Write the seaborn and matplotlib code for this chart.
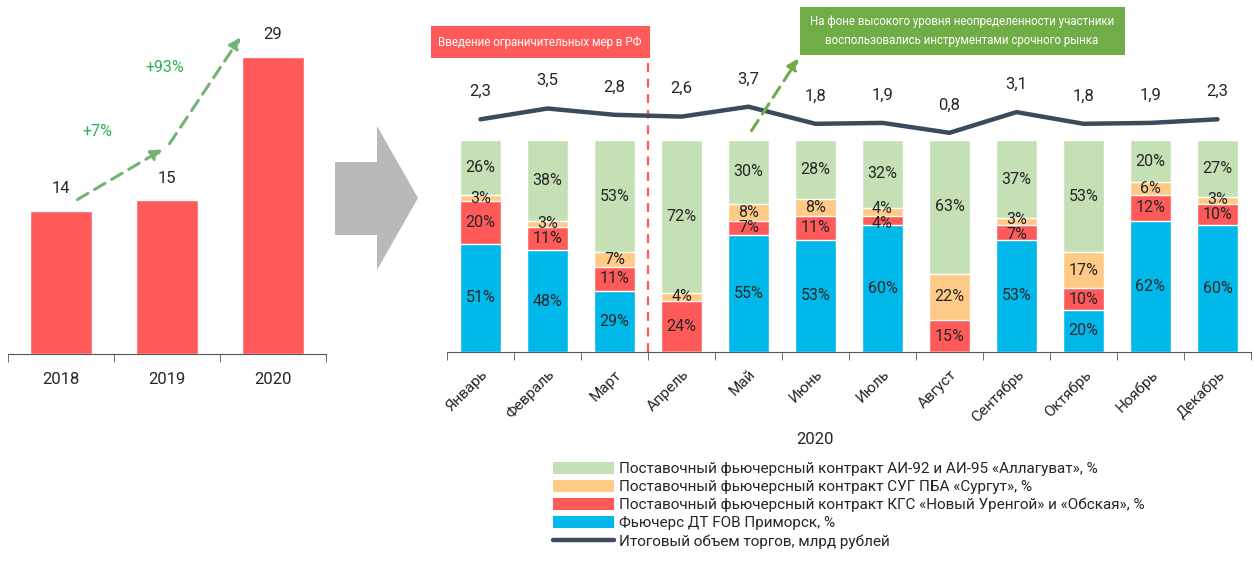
import numpy as np
import pandas as pd
import matplotlib
matplotlib.use('Agg')
import matplotlib.pyplot as plt
import seaborn as sns
from matplotlib.patches import Polygon, Rectangle, FancyArrowPatch, Patch
from matplotlib.lines import Line2D

# yearly totals, bn rub
years = ['2018', '2019', '2020']
year_totals = [14, 15, 29]
growth_labels = ['+7%', '+93%']

# monthly structure, %
months = ['Январь', 'Февраль', 'Март', 'Апрель', 'Май', 'Июнь', 'Июль',
          'Август', 'Сентябрь', 'Октябрь', 'Ноябрь', 'Декабрь']
dt_fob = [51, 48, 29, 0, 55, 53, 60, 0, 53, 20, 62, 60]
kgs = [20, 11, 11, 24, 7, 11, 4, 15, 7, 10, 12, 10]
sug = [3, 3, 7, 4, 8, 8, 4, 22, 3, 17, 6, 3]
ai92 = [26, 38, 53, 72, 30, 28, 32, 63, 37, 53, 20, 27]
monthly_volume = [2.3, 3.5, 2.8, 2.6, 3.7, 1.8, 1.9, 0.8, 3.1, 1.8, 1.9, 2.3]

series_names = ['Поставочный фьючерсный контракт АИ-92 и АИ-95 «Аллагуват», %',
                'Поставочный фьючерсный контракт СУГ ПБА «Сургут», %',
                'Поставочный фьючерсный контракт КГС «Новый Уренгой» и «Обская», %',
                'Фьючерс ДТ FOB Приморск, %']
line_name = 'Итоговый объем торгов, млрд рублей'

GREEN = '#c5e0b4'
ORANGE = '#ffca85'
RED = '#ff5a5a'
BLUE = '#00b9ea'
LINE = '#3c4a5e'
TXT = '#262626'

sns.set_style('white')
plt.rcParams['font.family'] = ['Roboto', 'DejaVu Sans']

W, H = 1253, 564
fig = plt.figure(figsize=(W / 100, H / 100), dpi=100)


def fx(px):
    return px / W


def fy(py):
    return 1 - py / H


# ---- left chart: yearly totals
axl = fig.add_axes([fx(8), fy(354), fx(318), 328 / H])
df_y = pd.DataFrame({'year': years, 'total': year_totals})
sns.barplot(data=df_y, x='year', y='total', color=RED, saturation=1, width=0.58, ax=axl)
axl.set_ylim(0, 32)
axl.set_xlim(-0.5, 2.5)
for i, v in enumerate(year_totals):
    axl.annotate(str(v), (i, v), xytext=(0, 16), textcoords='offset points',
                 ha='center', va='center', fontsize=12, color=TXT)
axl.set_xlabel('')
axl.set_ylabel('')
axl.set_yticks([])
axl.set_xticks(range(3))
axl.set_xticklabels(years, fontsize=12, color=TXT)
axl.set_xticks(np.arange(-0.5, 3, 1), minor=True)
axl.tick_params(axis='x', which='major', length=0, pad=13)
axl.tick_params(axis='x', which='minor', length=6, direction='out', color='#555555', bottom=True)
for s in ['top', 'right', 'left']:
    axl.spines[s].set_visible(False)
axl.spines['bottom'].set_color('#555555')

# growth arrows
arrow_green = '#74b374'
for (x0, y0), (x1, y1) in [((75, 201), (165, 148)), ((168, 146), (242, 35))]:
    fig.add_artist(FancyArrowPatch((fx(x0), fy(y0)), (fx(x1), fy(y1)), transform=fig.transFigure,
                                   arrowstyle='-|>', mutation_scale=16, color=arrow_green,
                                   lw=2.2, linestyle=(0, (4, 2.5))))
fig.text(fx(97), fy(131), growth_labels[0], ha='center', va='center', fontsize=11.5, color='#2ab44f')
fig.text(fx(165), fy(68), growth_labels[1], ha='center', va='center', fontsize=11.5, color='#2ab44f')

# big gray arrow
pts = [(335, 162), (377, 162), (377, 126), (418, 198), (377, 270), (377, 235), (335, 235)]
fig.add_artist(Polygon([(fx(x), fy(y)) for x, y in pts], closed=True, transform=fig.transFigure,
                       facecolor='#b9b9bb', edgecolor='none'))

# ---- right chart: stacked monthly structure
axr = fig.add_axes([fx(447), fy(352), fx(804), 212 / H])
df_m = pd.DataFrame({'month': months, 'blue': dt_fob, 'red': kgs, 'orange': sug, 'green': ai92})
df_m['c_red'] = df_m['blue'] + df_m['red']
df_m['c_orange'] = df_m['c_red'] + df_m['orange']
df_m['c_green'] = df_m['c_orange'] + df_m['green']
for col, color in [('c_green', GREEN), ('c_orange', ORANGE), ('c_red', RED), ('blue', BLUE)]:
    sns.barplot(data=df_m, x='month', y=col, color=color, saturation=1, width=0.6, ax=axr)

# segment labels, thin neighbouring segments pushed slightly apart
min_gap = 7.0
for i in range(len(months)):
    vals = [dt_fob[i], kgs[i], sug[i], ai92[i]]
    centers = []
    base = 0
    for v in vals:
        centers.append(base + v / 2)
        base += v
    shift = [0.0] * 4
    for k in range(1, 4):
        if vals[k] > 0 and vals[k - 1] > 0:
            gap = centers[k] - centers[k - 1]
            if gap < min_gap:
                d = (min_gap - gap) / 2
                shift[k] += d
                shift[k - 1] -= d
    for k, v in enumerate(vals):
        if v > 0:
            axr.text(i, centers[k] + shift[k], f'{v}%', ha='center', va='center',
                     fontsize=11.5, color=TXT)

axr.set_ylim(0, 100)
axr.set_xlim(-0.5, 11.5)
axr.set_xlabel('')
axr.set_ylabel('')
axr.set_yticks([])
axr.set_xticks(range(12))
axr.set_xticklabels(months, rotation=45, ha='right', rotation_mode='anchor', fontsize=11, color=TXT)
axr.set_xticks(np.arange(-0.5, 12, 1), minor=True)
axr.tick_params(axis='x', which='major', length=0, pad=11)
axr.tick_params(axis='x', which='minor', length=6, direction='out', color='#555555', bottom=True)
for s in ['top', 'right', 'left']:
    axr.spines[s].set_visible(False)
axr.spines['bottom'].set_color('#555555')
fig.text(fx(815), fy(440), '2020', ha='center', va='center', fontsize=12, color=TXT)

# restrictions marker
axr.plot([2.5, 2.5], [0, 138.5], color=RED, lw=1.6, linestyle=(0, (4, 3)), clip_on=False, zorder=5)

# ---- total volume line
axv = fig.add_axes([fx(447), fy(140), fx(804), 45 / H], sharex=axr)
sns.lineplot(x=list(range(12)), y=monthly_volume, color=LINE, lw=3.2, ax=axv)
axv.set_ylim(0, 5)
axv.axis('off')
for i, v in enumerate(monthly_volume):
    axv.annotate(f'{v:.1f}'.replace('.', ','), (i, v), xytext=(0, 20), textcoords='offset points',
                 ha='center', va='center', fontsize=12, color=TXT, annotation_clip=False)

# annotation boxes
fig.add_artist(Rectangle((fx(431), fy(58)), fx(219), 32 / H, transform=fig.transFigure,
                         facecolor=RED, edgecolor='none'))
fig.text(fx(540), fy(42), 'Введение ограничительных мер в РФ', ha='center', va='center',
         fontsize=8.3, color='white')
fig.add_artist(Rectangle((fx(800), fy(55)), fx(325), 48 / H, transform=fig.transFigure,
                         facecolor='#70ad47', edgecolor='none'))
fig.text(fx(962), fy(31), 'На фоне высокого уровня неопределенности участники\n'
         'воспользовались инструментами срочного рынка', ha='center', va='center',
         fontsize=8.3, color='white', linespacing=1.6)
fig.add_artist(FancyArrowPatch((fx(750), fy(133)), (fx(800), fy(56)), transform=fig.transFigure,
                               arrowstyle='-|>', mutation_scale=16, color='#70ad47',
                               lw=2.2, linestyle=(0, (4, 2.5))))

# legend
handles = [Patch(facecolor=GREEN, edgecolor='none'), Patch(facecolor=ORANGE, edgecolor='none'),
           Patch(facecolor=RED, edgecolor='none'), Patch(facecolor=BLUE, edgecolor='none'),
           Line2D([0], [0], color=LINE, lw=3.2)]
fig.legend(handles, series_names + [line_name], loc='upper left',
           bbox_to_anchor=(fx(553), fy(462)), frameon=False, fontsize=11,
           handlelength=4, handleheight=0.8, labelspacing=0.25, handletextpad=0.3,
           borderpad=0, borderaxespad=0, labelcolor=TXT)

fig.savefig('out.png', dpi=100)
